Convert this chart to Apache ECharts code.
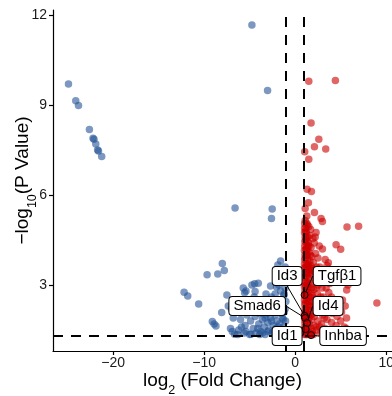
<!DOCTYPE html>
<html><head><meta charset="utf-8">
<script src="https://cdn.jsdelivr.net/npm/echarts@6/dist/echarts.min.js"></script>
<style>html,body{margin:0;padding:0;background:#fff}#c{width:392px;height:396px}</style>
</head><body><div id="c"></div>
<script>
// ---- data ----
const xTicks = [-20, -10, 0, 10];
const yTicks = [3, 6, 9, 12];
const fcCutoffs = [-1, 1];
const pCutoff = 1.3;

const downGenes = [
 [-24.9,9.7],[-24.1,9.14],[-23.8,8.98],[-22.6,8.18],[-22.2,7.89],[-22.1,7.86],[-21.9,7.7],[-21.7,7.5],[-21.6,7.47],[-21.25,7.28],
 [-4.75,11.67],[-3.03,9.48],[-6.6,5.57],[-2.52,5.53],[-2.6,5.22],
 [-8.0,3.72],[-7.78,3.48],[-8.5,3.37],[-9.67,3.34],[-12.2,2.76],[-11.8,2.63],[-10.6,2.37],[-7.5,2.67],[-8.07,2.08],
 [-9.1,1.78],[-8.9,1.7],[-8.7,1.63],[-7.34,2.3],[-6.65,1.36],[-4.85,1.36],
 [-5.55,2.74],[-5.4,2.8],[-4.45,3.04],[-4.05,3.06],[-2.7,2.97],[-2.04,2.93],[-1.6,3.8],[-1.9,3.67],[-1.4,3.5],[-3.2,2.7],
 [-6.2,1.5],[-6.0,1.85],[-5.8,2.2],[-5.6,1.4],[-5.5,1.65],[-5.3,2.0],[-5.2,2.45],[-5.0,1.35],[-4.9,1.8],[-4.8,2.15],
 [-4.6,1.55],[-4.5,2.6],[-4.4,1.95],[-4.3,1.4],[-4.2,2.3],[-4.0,1.7],[-3.9,2.05],[-3.8,1.45],[-3.7,2.5],[-3.6,1.85],
 [-3.5,2.2],[-3.4,1.6],[-3.3,1.35],[-3.2,2.0],[-3.1,2.4],[-3.0,1.75],[-2.9,1.5],[-2.8,2.15],[-2.7,1.9],[-2.6,2.6],
 [-2.5,1.4],[-2.4,1.65],[-2.3,2.3],[-2.2,2.0],[-2.1,1.55],[-2.0,1.8],[-1.9,2.5],[-1.85,1.35],[-1.8,2.1],[-1.7,1.7],
 [-1.6,2.8],[-1.55,1.5],[-1.5,2.35],[-1.4,1.9],[-1.35,3.1],[-1.3,1.6],[-1.25,2.65],[-1.2,2.1],[-1.15,1.4],[-1.1,3.3],
 [-1.05,1.8],[-1.02,2.45],[-1.0,1.5],[-1.1,2.9],[-1.3,3.4],[-1.5,3.2],[-1.8,3.0],[-2.2,2.7],[-6.8,1.9],[-7.1,1.55],
 [-6.5,2.5],[-7.0,2.2],[-6.3,1.35],[-5.7,2.9],[-4.75,3.0],[-4.4,2.78],[-1.6,3.23],[-1.1,3.6],
 [-3.6,1.4],[-3.0,1.45],[-2.4,1.45],[-1.9,1.6],[-1.3,1.85],[-1.1,2.2],[-2.6,1.8],[-3.3,1.9],[-4.1,1.55],[-5.9,1.6],
 [-1.2,2.7],[-1.5,2.05],[-2.0,2.3],[-2.9,2.5],[-1.05,1.35],[-1.7,1.4],[-2.2,1.35],[-3.9,1.35],[-5.4,1.45],[-6.9,1.45]
];

const upGenes = [
 [1.5,9.79],[4.42,9.82],[1.75,8.4],[2.6,7.86],[2.12,7.61],[3.36,7.53],[1.05,7.44],[1.5,7.19],[1.31,6.19],[1.79,6.12],
 [1.46,5.74],[1.1,5.55],[2.12,5.42],[2.85,5.22],[3.0,5.12],[5.7,4.93],[6.97,4.96],[4.5,4.34],[5.0,4.19],[3.0,4.2],
 [8.98,2.4],[5.66,2.83],[3.65,3.74],[1.28,5.06],
 [1.02,1.35],[1.05,1.6],[1.03,1.9],[1.08,2.2],[1.02,2.5],[1.06,2.8],[1.04,3.1],[1.1,3.4],[1.03,3.7],[1.07,4.0],
 [1.05,4.3],[1.09,4.6],[1.04,4.9],[1.1,5.15],
 [1.25,1.45],[1.3,1.75],[1.22,2.05],[1.35,2.35],[1.28,2.65],[1.2,2.95],[1.32,3.25],[1.26,3.55],[1.38,3.85],[1.24,4.15],
 [1.3,4.45],[1.22,4.75],[1.35,5.0],[1.28,5.3],
 [1.5,1.4],[1.55,1.7],[1.45,2.0],[1.6,2.3],[1.5,2.6],[1.42,2.9],[1.58,3.2],[1.48,3.5],[1.62,3.8],[1.52,4.1],
 [1.45,4.4],[1.6,4.65],[1.5,4.95],
 [1.75,1.55],[1.8,1.85],[1.7,2.15],[1.85,2.45],[1.72,2.75],[1.78,3.05],[1.9,3.35],[1.7,3.65],[1.82,3.95],[1.75,4.25],
 [1.95,4.55],[1.7,4.85],
 [2.0,1.35],[2.05,1.65],[2.1,1.95],[2.0,2.25],[2.15,2.55],[2.05,2.85],[2.2,3.15],[2.1,3.45],[2.0,3.75],[2.25,4.05],
 [2.1,4.4],[2.3,4.75],[2.2,4.6],
 [2.4,1.5],[2.5,1.8],[2.35,2.1],[2.6,2.4],[2.45,2.7],[2.55,3.0],[2.4,3.3],[2.7,3.6],[2.5,3.9],[2.65,4.3],
 [2.8,1.4],[2.9,1.7],[3.0,2.0],[2.85,2.3],[3.1,2.6],[2.95,2.9],[3.2,3.2],[3.05,3.5],[3.3,3.85],[3.5,3.65],
 [3.3,1.55],[3.5,1.85],[3.4,2.15],[3.6,2.45],[3.7,2.75],[3.8,3.05],[3.9,1.45],[4.0,1.75],[4.1,2.05],[4.2,2.35],[4.0,2.6],
 [4.4,1.4],[4.5,1.65],[4.6,1.95],[4.7,2.2],[4.5,2.5],[4.9,1.5],[5.0,1.8],[5.1,2.1],[5.3,1.4],[5.4,1.6],[5.5,2.3],
 [5.6,1.55],[5.65,1.9],[5.2,2.5],[5.8,3.0],
 [1.12,1.5],[1.15,1.8],[1.18,2.1],[1.13,2.4],[1.16,2.7],[1.12,3.0],[1.17,3.3],[1.14,3.6],[1.12,3.9],[1.18,4.2],
 [1.15,4.5],[1.16,4.8],[1.4,1.55],[1.4,1.85],[1.38,2.15],[1.42,2.45],[1.4,2.75],[1.36,3.05],[1.42,3.4],[1.4,3.7],
 [1.36,4.0],[1.4,4.3],[1.38,4.6],[1.65,1.4],[1.62,2.0],[1.68,2.6],[1.64,3.4],[1.66,4.0],[1.9,1.45],[1.95,2.05],
 [1.88,2.65],[1.92,3.55],[2.3,1.6],[2.25,2.2],[2.3,2.9],[2.35,3.6],[2.7,1.6],[2.75,2.1],[2.8,2.6],[2.65,3.3],
 [3.1,1.5],[3.2,1.9],[3.3,2.4],[3.4,2.9],
 [1.03,1.45],[1.06,1.75],[1.02,2.05],[1.05,2.35],[1.04,2.65],[1.02,2.95],[1.06,3.25],[1.03,3.55],[1.05,3.85],[1.02,4.15],
 [1.06,4.45],[1.03,4.75],[1.05,5.05],[1.2,1.35],[1.22,1.6],[1.25,1.9],[1.2,2.2],[1.25,2.5],[1.22,2.8],[1.25,3.1],
 [1.2,3.4],[1.23,3.7],[1.2,4.0],[1.25,4.3],[1.22,4.6],[1.2,4.9],[1.3,1.35],[1.32,2.0],[1.3,2.9],[1.32,3.6],[1.3,4.2],
 [1.55,1.35],[1.52,1.9],[1.55,2.45],[1.52,3.0],[1.55,3.6],[1.52,4.3],[1.8,1.35],[1.78,2.3],[1.8,2.9],[1.78,3.5]
];

const labelNames = ['Tgfβ1', 'Id3', 'Smad6', 'Id4', 'Id1', 'Inhba'];
const labelFC = [1.04, 1.04, 1.1, 1.31, 1.15, 1.75];
const labelP = [2.67, 1.97, 1.9, 1.73, 1.53, 1.33];

// ---- styling (label box offsets in px) ----
const labelShift = {
  'Tgfβ1': [32.5, -19], 'Id3': [-17.5, -40], 'Smad6': [-48, -12],
  'Id4': [21, -17], 'Id1': [-18.5, 7], 'Inhba': [32, 1]
};

const FONT = 'Liberation Sans, Arial, sans-serif';
const chart = echarts.init(document.getElementById('c'), null, {renderer: 'canvas'});

const richTitle = {
  a: {fontSize: 19, fontFamily: FONT, color: '#000', lineHeight: 21, verticalAlign: 'top'},
  s: {fontSize: 12.5, fontFamily: FONT, color: '#000', lineHeight: 12, padding: [13, 0, 0, 0], verticalAlign: 'top'}
};

chart.setOption({
  animation: false,
  backgroundColor: '#fff',
  grid: {left: 53, top: 10, right: 0, bottom: 45, containLabel: false, outerBoundsMode: 'none'},
  xAxis: {
    type: 'value', min: -26.6, max: 10.64,
    name: '{a|log}{s|2}{a| (Fold Change)}',
    nameLocation: 'middle', nameGap: 20, nameMoveOverlap: false,
    nameTextStyle: {rich: richTitle},
    axisLine: {show: true, onZero: false, lineStyle: {color: '#000', width: 1.2}},
    axisTick: {show: true, length: 4, lineStyle: {color: '#000', width: 1.2}, customValues: xTicks},
    axisLabel: {fontSize: 14, fontFamily: FONT, color: '#1a1a1a', margin: 5, customValues: xTicks,
      formatter: v => String(v).replace('-', '\u2212')},
    splitLine: {show: false}
  },
  yAxis: {
    type: 'value', min: 0.8, max: 12.167,
    name: '{a|\u2212log}{s|10}{a|(P Value)}',
    nameLocation: 'middle', nameGap: 19, nameRotate: 90, nameMoveOverlap: false,
    nameTextStyle: {rich: richTitle},
    axisLine: {show: true, onZero: false, lineStyle: {color: '#000', width: 1.2}},
    axisTick: {show: true, length: 4, lineStyle: {color: '#000', width: 1.2}, customValues: yTicks},
    axisLabel: {fontSize: 14, fontFamily: FONT, color: '#1a1a1a', margin: 6, customValues: yTicks},
    splitLine: {show: false}
  },
  series: [
    {
      type: 'scatter', name: 'down', data: downGenes, symbolSize: 7.5,
      itemStyle: {color: '#245496', opacity: 0.6}, silent: true, z: 2
    },
    {
      type: 'scatter', name: 'up', data: upGenes, symbolSize: 7.5,
      itemStyle: {color: '#cc0000', opacity: 0.6}, silent: true, z: 2
    },
    {
      type: 'scatter', name: 'cutoffs', data: [], silent: true, z: 4,
      markLine: {
        silent: true, symbol: 'none', animation: false,
        label: {show: false},
        lineStyle: {color: '#000', width: 2, type: [10, 8], opacity: 1},
        data: fcCutoffs.map(v => ({xAxis: v})).concat([{yAxis: pCutoff}])
      }
    },
    {
      type: 'scatter', name: 'labelled', z: 6, symbolSize: 7, silent: true,
      data: labelNames.map((n, i) => ({name: n, value: [labelFC[i], labelP[i]]})),
      itemStyle: {color: 'rgba(204,0,0,0.6)', borderColor: '#000', borderWidth: 1, opacity: 1},
      label: {
        show: true, position: 'inside', formatter: '{b}', opacity: 1,
        fontSize: 15, fontFamily: FONT, color: '#000',
        backgroundColor: '#ffffff', borderColor: '#000', borderWidth: 1, borderRadius: 3,
        padding: [1, 4, 1, 4], lineHeight: 16, textBorderWidth: 0
      },
      labelLine: {show: true, lineStyle: {color: '#000', width: 1, opacity: 1}},
      labelLayout: function (p) {
        const s = labelShift[labelNames[p.dataIndex]];
        return {dx: s[0], dy: s[1]};
      }
    }
  ]
});
</script>
</body></html>
